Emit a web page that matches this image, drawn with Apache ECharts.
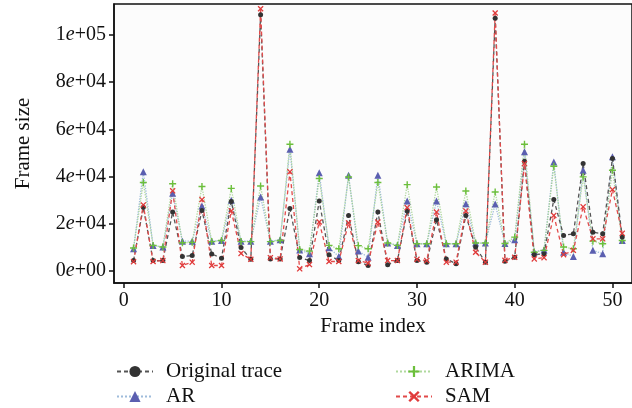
<!DOCTYPE html>
<html>
<head>
<meta charset="utf-8">
<script src="https://cdn.jsdelivr.net/npm/echarts@6/dist/echarts.min.js"></script>
<style>
  html, body { margin: 0; padding: 0; background: #fff; }
  #chart { width: 632px; height: 408px; }
</style>
</head>
<body>
<div id="chart"></div>
<script>
var frames = [1,2,3,4,5,6,7,8,9,10,11,12,13,14,15,16,17,18,19,20,21,22,23,24,25,26,
  27,28,29,30,31,32,33,34,35,36,37,38,39,40,41,42,43,44,45,46,47,48,49,50,51];

var original = [4500,27000,4500,4500,25000,6200,6600,25700,7300,5500,29500,10000,5000,108500,
  5200,5200,26500,5800,4500,29700,6900,4500,23600,4000,2400,25000,2700,4500,25500,4500,3800,
  21800,5200,3100,23600,10200,3800,107000,4200,5900,46500,7000,7300,30300,15100,15800,45500,
  16500,15800,47700,14500];
var ar = [9500,42000,10900,10200,33000,12700,12700,27600,12700,13000,30000,12700,12700,31400,
  12700,13300,51600,9000,7400,41600,9900,6200,40600,8500,5900,40600,11900,10900,29700,11600,
  11600,29700,11600,11600,28500,11900,11900,28400,11700,13300,50500,8200,9000,46200,8000,6200,
  42700,8800,7400,48400,13000];
var arima = [9800,37500,10900,10200,37000,12000,12200,35800,12500,13000,35000,12500,12500,36000,
  12500,13000,53700,9200,8500,39200,10900,9500,39800,10800,9500,37500,11900,10900,36600,11600,
  11600,35600,11600,11600,33900,11900,11900,33500,11700,14400,53700,8000,8800,44400,10200,9500,
  39900,12700,11600,42700,13000];
var sam = [4000,28000,4100,4500,34000,2400,3800,30300,2400,2400,25500,7500,5000,111000,5700,
  5200,42000,1000,2800,20800,4100,4100,20400,4500,3400,20800,4500,4500,26900,5000,4500,25000,
  3800,3800,25500,8000,3800,109200,4600,5900,45500,5200,5700,23600,7000,8800,27200,13700,13700,
  34500,16000];

var xTicks = [0, 10, 20, 30, 40, 50];
var yTicks = [0, 20000, 40000, 60000, 80000, 100000];

var font = 'Liberation Serif';
var plusPath = 'path://M4,0H6V4H10V6H6V10H4V6H0V4H4Z';
var crossPath = 'path://M1.5,0L5,3.5L8.5,0L10,1.5L6.5,5L10,8.5L8.5,10L5,6.5L1.5,10L0,8.5L3.5,5L0,1.5Z';

function pairs(vals) {
  return frames.map(function (f, i) { return [f, vals[i]]; });
}

function sci(v) {
  if (v === 0) return '0{i|e}+00';
  var e = Math.floor(Math.log10(v));
  var m = Math.round(v / Math.pow(10, e));
  return m + '{i|e}+' + (e < 10 ? '0' : '') + e;
}

var chart = echarts.init(document.getElementById('chart'));

var legendText = { fontFamily: font, fontSize: 21, color: '#111', padding: [0, 0, 0, 8] };

var option = {
  animation: false,
  grid: {
    left: 114, top: 4, right: 0, bottom: 125,
    show: true, borderColor: '#111', borderWidth: 1.5, backgroundColor: '#fcfcfc'
  },
  xAxis: {
    type: 'value', min: -1, max: 52,
    name: 'Frame index', nameLocation: 'middle', nameGap: 33,
    nameTextStyle: { fontFamily: font, fontSize: 21, color: '#111' },
    axisLine: { show: true, onZero: false, lineStyle: { color: '#111', width: 1.5 } },
    axisTick: { show: true, length: 5, customValues: xTicks, lineStyle: { color: '#111', width: 1.5 } },
    axisLabel: { customValues: xTicks, margin: 8, fontFamily: font, fontSize: 20, color: '#111' },
    splitLine: { show: false }
  },
  yAxis: {
    type: 'value', min: -5000, max: 113000,
    name: 'Frame size', nameLocation: 'middle', nameGap: 80, nameRotate: 90,
    nameTextStyle: { fontFamily: font, fontSize: 21, color: '#111' },
    axisLine: { show: true, onZero: false, lineStyle: { color: '#111', width: 1.5 } },
    axisTick: { show: true, length: 5, customValues: yTicks, lineStyle: { color: '#111', width: 1.5 } },
    axisLabel: {
      customValues: yTicks, margin: 8, fontFamily: font, fontSize: 20, color: '#111',
      formatter: sci,
      rich: { i: { fontStyle: 'italic', fontFamily: font, fontSize: 20, color: '#111' } }
    },
    splitLine: { show: false }
  },
  legend: [
    {
      left: 116, top: 361, orient: 'vertical', padding: 0, itemGap: 4, itemWidth: 36, itemHeight: 14,
      textStyle: legendText,
      data: ['Original trace', 'AR']
    },
    {
      left: 395, top: 361, orient: 'vertical', padding: 0, itemGap: 4, itemWidth: 36, itemHeight: 14,
      textStyle: legendText,
      data: ['ARIMA', 'SAM']
    }
  ],
  series: [
    {
      name: 'AR', type: 'line', data: pairs(ar),
      symbol: 'triangle', symbolSize: 7,
      itemStyle: { color: '#5b5fb0' },
      lineStyle: { color: '#7fa6cf', width: 1.3, type: 'dotted', opacity: 0.75 }
    },
    {
      name: 'ARIMA', type: 'line', data: pairs(arima),
      symbol: plusPath, symbolSize: 7,
      itemStyle: { color: '#6cbf3c' },
      lineStyle: { color: '#9ccf86', width: 1.3, type: 'dotted', opacity: 0.8 }
    },
    {
      name: 'Original trace', type: 'line', data: pairs(original),
      symbol: 'circle', symbolSize: 5,
      itemStyle: { color: '#333' },
      lineStyle: { color: '#555', width: 1.3, type: [4, 3] }
    },
    {
      name: 'SAM', type: 'line', data: pairs(sam),
      symbol: crossPath, symbolSize: 6,
      itemStyle: { color: '#e03a3a' },
      lineStyle: { color: '#e24a4a', width: 1.3, type: [4, 3] }
    }
  ]
};

chart.setOption(option);
</script>
</body>
</html>
